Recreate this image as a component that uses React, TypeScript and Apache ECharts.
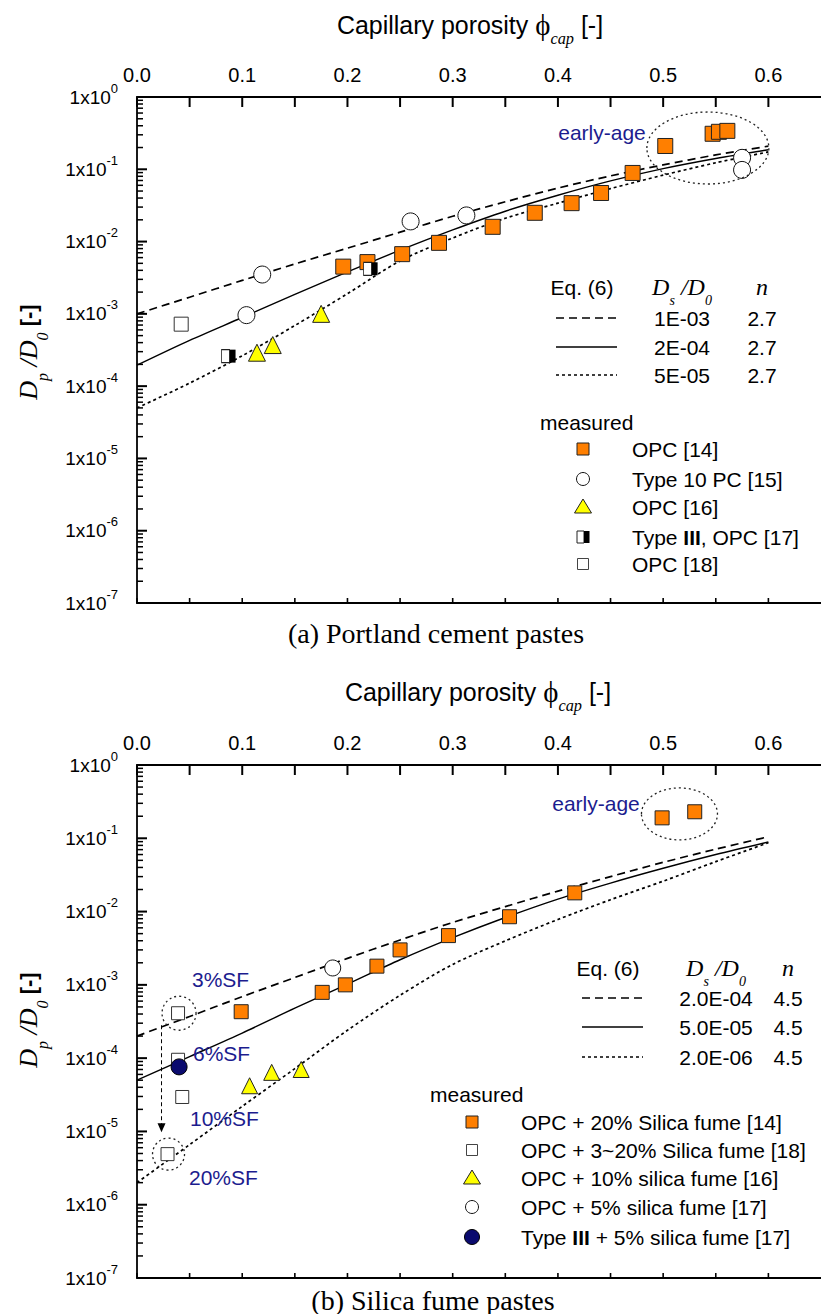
import React, { useEffect, useRef } from 'react';
import * as echarts from 'echarts';

const SANS = "'Liberation Sans', Arial, Helvetica, sans-serif";
const SERIF = "'Liberation Serif', 'Times New Roman', Times, serif";
const ORANGE = '#FF7F00';
const YELLOW = '#FFFF00';
const NAVY = '#0A0A6E';
const ANNOT = '#1C1C8E';

// capillary porosity sampling of the model curves
const phiModel = [0, 0.05, 0.1, 0.15, 0.2, 0.25, 0.3, 0.35, 0.4, 0.45, 0.5, 0.55, 0.6];

// (a) Portland cement pastes, Eq.(6)
const aDashed = [1.0e-3, 1.7e-3, 2.9e-3, 4.9e-3, 8.1e-3, 1.35e-2, 2.24e-2, 3.55e-2, 5.5e-2, 8.1e-2, 0.115, 0.158, 0.209];
const aSolid = [1.95e-4, 4.3e-4, 8.9e-4, 1.86e-3, 3.8e-3, 7.6e-3, 1.45e-2, 2.63e-2, 4.37e-2, 6.9e-2, 0.102, 0.141, 0.186];
const aDotted = [5.0e-5, 1.1e-4, 2.63e-4, 6.9e-4, 1.9e-3, 5.4e-3, 1.12e-2, 2.1e-2, 3.4e-2, 5.4e-2, 8.3e-2, 0.123, 0.174];

// (a) measured
const aOPC14 = [[0.196, 4.5e-3], [0.219, 5.2e-3], [0.252, 6.7e-3], [0.287, 9.6e-3], [0.338, 1.6e-2], [0.378, 2.5e-2], [0.413, 3.4e-2], [0.441, 4.7e-2], [0.471, 8.9e-2], [0.502, 0.21], [0.547, 0.31], [0.553, 0.33], [0.561, 0.34]];
const aType10 = [[0.104, 9.6e-4], [0.119, 3.5e-3], [0.26, 1.9e-2], [0.313, 2.3e-2], [0.575, 0.144], [0.575, 0.098]];
const aOPC16 = [[0.114, 2.9e-4], [0.129, 3.7e-4], [0.175, 1.0e-3]];
const aType3 = [[0.087, 2.6e-4], [0.222, 4.2e-3]];
const aOPC18 = [[0.042, 7.2e-4]];

// (b) Silica fume pastes, Eq.(6)
const bDashed = [2.0e-4, 3.7e-4, 6.9e-4, 1.26e-3, 2.3e-3, 4.1e-3, 7.1e-3, 1.17e-2, 1.9e-2, 3.0e-2, 4.7e-2, 7.1e-2, 0.105];
const bSolid = [5.0e-5, 1.05e-4, 2.2e-4, 4.8e-4, 1.02e-3, 2.2e-3, 4.4e-3, 8.3e-3, 1.48e-2, 2.45e-2, 3.9e-2, 6.0e-2, 8.9e-2];
const bDotted = [2.0e-6, 6.6e-6, 2.2e-5, 7.2e-5, 2.4e-4, 7.2e-4, 1.9e-3, 3.98e-3, 7.8e-3, 1.45e-2, 2.6e-2, 4.8e-2, 8.7e-2];

// (b) measured
const bOPC14 = [[0.099, 4.3e-4], [0.176, 7.9e-4], [0.198, 1.0e-3], [0.228, 1.8e-3], [0.25, 3.0e-3], [0.296, 4.7e-3], [0.354, 8.5e-3], [0.416, 1.8e-2], [0.499, 0.19], [0.53, 0.23]];
const bOPC18 = [[0.039, 4.1e-4], [0.039, 9.5e-5], [0.043, 2.95e-5], [0.029, 4.9e-6]];
const bOPC16 = [[0.107, 4.2e-5], [0.128, 6.4e-5], [0.156, 7.0e-5]];
const bOPC17 = [[0.186, 1.7e-3]];
const bType3 = [[0.04, 7.6e-5]];

// annotation anchors (data coords)
const aEarlyAge = [0.5425, 0.197];
const bEarlyAge = [0.5155, 0.215];

// legend texts
const aEqValues = ['1E-03', '2E-04', '5E-05'];
const aEqN = ['2.7', '2.7', '2.7'];
const bEqValues = ['2.0E-04', '5.0E-05', '2.0E-06'];
const bEqN = ['4.5', '4.5', '4.5'];
const aMeasured = ['OPC [14]', 'Type 10 PC [15]', 'OPC [16]', 'Type {b|III}, OPC [17]', 'OPC [18]'];
const bMeasured = ['OPC + 20% Silica fume [14]', 'OPC + 3~20% Silica fume [18]', 'OPC + 10% silica fume [16]', 'OPC + 5% silica fume [17]', 'Type {b|III} + 5% silica fume [17]'];

// axis tick positions
const xTickValues = [0, 0.05, 0.1, 0.15, 0.2, 0.25, 0.3, 0.35, 0.4, 0.45, 0.5, 0.55, 0.6];
const yDecades = [0, -1, -2, -3, -4, -5, -6, -7];
const minorMultipliers = [2, 3, 4, 5, 6, 7, 8, 9];

const pair = (ys: number[]) => phiModel.map((p, i) => [p, ys[i]]);

const DASH = [8, 5];
const DOT = [3, 3];

function xAxes(grid: number) {
  const common = {
    gridIndex: grid,
    type: 'value',
    min: 0,
    max: 0.65,
    interval: 0.05,
    splitLine: { show: false },
    axisTick: { show: false },
    axisLine: { show: true, lineStyle: { color: '#000', width: 1.8 } },
  };
  return [
    {
      ...common,
      position: 'top',
      axisLabel: {
        color: '#000',
        fontFamily: SANS,
        fontSize: 20,
        margin: 12,
        showMaxLabel: false,
        formatter: (v: number) => {
          const r = Math.round(v * 100);
          if (r % 10 !== 0 || r > 60) return '';
          return (r / 100).toFixed(1);
        },
      },
    },
    { ...common, position: 'bottom', axisLabel: { show: false } },
  ];
}

function yAxis(grid: number) {
  return {
    gridIndex: grid,
    type: 'log',
    logBase: 10,
    min: 1e-7,
    max: 1,
    splitNumber: 7,
    splitLine: { show: false },
    axisTick: { show: false },
    axisLine: { show: true, lineStyle: { color: '#000', width: 1.8 } },
    axisLabel: {
      color: '#000',
      fontFamily: SANS,
      margin: 19,
      formatter: (v: number) => `{b|1x10}{sup|${Math.round(Math.log10(v))}}`,
      rich: {
        b: { fontFamily: SANS, fontSize: 19, lineHeight: 22, color: '#000' },
        sup: { fontFamily: SANS, fontSize: 13, lineHeight: 13, padding: [0, 0, 18, 0], color: '#000' },
      },
    },
  };
}

function lineSeries(grid: number, ys: number[], type: any, width: number) {
  return {
    type: 'line',
    xAxisIndex: grid * 2,
    yAxisIndex: grid,
    data: pair(ys),
    smooth: 0.3,
    showSymbol: false,
    silent: true,
    z: 2,
    lineStyle: { color: '#000', width, type, opacity: 1 },
  };
}

function scatter(grid: number, data: number[][], symbol: string, size: any, fill: string, border: string, extra: any = {}) {
  return {
    type: 'scatter',
    xAxisIndex: grid * 2,
    yAxisIndex: grid,
    data,
    symbol,
    symbolSize: size,
    z: 4,
    itemStyle: { color: fill, opacity: 1, borderColor: border, borderWidth: border === 'none' ? 0 : 1 },
    ...extra,
  };
}

const option: any = {
  animation: false,
  grid: [
    { left: 137, top: 97, width: 689, height: 506 },
    { left: 137, top: 765, width: 694, height: 513 },
  ],
  xAxis: [...xAxes(0), ...xAxes(1)],
  yAxis: [yAxis(0), yAxis(1)],
  series: [
    lineSeries(0, aDashed, DASH, 1.7),
    lineSeries(0, aSolid, 'solid', 1.4),
    lineSeries(0, aDotted, DOT, 1.7),
    scatter(0, aOPC14, 'rect', 15, ORANGE, '#222'),
    scatter(0, aType10, 'circle', 17, '#fff', '#111'),
    scatter(0, aOPC16, 'triangle', 17, YELLOW, '#222'),
    scatter(0, aType3, 'rect', [8, 13], '#fff', '#222', { symbolOffset: [-3, 0] }),
    scatter(0, aType3, 'rect', [6, 13], '#000', 'none', { symbolOffset: [4, 0] }),
    scatter(0, aOPC18, 'rect', 14, '#fff', '#333'),
    lineSeries(1, bDashed, DASH, 1.7),
    lineSeries(1, bSolid, 'solid', 1.4),
    lineSeries(1, bDotted, DOT, 1.7),
    scatter(1, bOPC14, 'rect', 14, ORANGE, '#222'),
    scatter(1, bOPC18, 'rect', 13, '#fff', '#333'),
    scatter(1, bOPC16, 'triangle', 16, YELLOW, '#222'),
    scatter(1, bOPC17, 'circle', 16, '#fff', '#111'),
    scatter(1, bType3, 'circle', 16, NAVY, '#000'),
  ],
};

function txt(x: number, y: number, text: string, opts: any = {}) {
  return {
    type: 'text',
    x,
    y,
    z: 20,
    scaleX: opts.scaleX ?? 1,
    rotation: opts.rotation ?? 0,
    style: {
      text,
      fill: opts.fill ?? '#000',
      font: opts.font ?? `21px ${SANS}`,
      align: opts.align ?? 'left',
      verticalAlign: 'middle',
      rich: opts.rich,
    },
  };
}

function seg(x1: number, y1: number, x2: number, y2: number, w: number) {
  return { type: 'line', z: 30, silent: true, shape: { x1, y1, x2, y2 }, style: { stroke: '#000', lineWidth: w } };
}

function legendLine(x1: number, x2: number, y: number, dash: any, w: number) {
  return {
    type: 'line',
    z: 20,
    shape: { x1, y1: y, x2, y2: y },
    style: { stroke: '#000', lineWidth: w, lineDash: dash },
  };
}

const DS_RICH = {
  d: { fontFamily: SERIF, fontStyle: 'italic', fontSize: 24, lineHeight: 40, verticalAlign: 'middle' },
  s: { fontFamily: SERIF, fontStyle: 'italic', fontSize: 14, lineHeight: 14, verticalAlign: 'bottom' },
};

const BOLD_RICH = { b: { fontFamily: SANS, fontWeight: 'bold', fontSize: 21 } };

function eqLegend(cxEq: number, cxDs: number, cxN: number, lx1: number, lx2: number, rows: number[], vals: string[], ns: string[]) {
  const els: any[] = [];
  els.push(txt(cxEq, rows[0], 'Eq. (6)', { align: 'center' }));
  els.push(txt(cxDs, rows[0], '{d|D}{s|s}{d| /D}{s|0}', { align: 'center', rich: DS_RICH }));
  els.push(txt(cxN, rows[0], '{d|n}', { align: 'center', rich: DS_RICH }));
  const styles = [[DASH, 1.7], [null, 1.4], [DOT, 1.7]];
  for (let i = 0; i < 3; i++) {
    els.push(legendLine(lx1, lx2, rows[i + 1], styles[i][0], styles[i][1] as number));
    els.push(txt(cxDs, rows[i + 1], vals[i], { align: 'center' }));
    els.push(txt(cxN, rows[i + 1], ns[i], { align: 'center' }));
  }
  return els;
}

function marker(kind: string, cx: number, cy: number) {
  const z = 20;
  switch (kind) {
    case 'orange':
      return [{ type: 'rect', z, shape: { x: cx - 6, y: cy - 6, width: 12, height: 12 }, style: { fill: ORANGE, stroke: '#222', lineWidth: 1 } }];
    case 'circle':
      return [{ type: 'circle', z, shape: { cx, cy, r: 6.5 }, style: { fill: '#fff', stroke: '#111', lineWidth: 1 } }];
    case 'triangle':
      return [{ type: 'polygon', z, shape: { points: [[cx, cy - 8], [cx - 8.5, cy + 6], [cx + 8.5, cy + 6]] }, style: { fill: YELLOW, stroke: '#222', lineWidth: 1 } }];
    case 'half':
      return [
        { type: 'rect', z, shape: { x: cx - 6, y: cy - 6, width: 7, height: 12 }, style: { fill: '#fff', stroke: '#222', lineWidth: 1 } },
        { type: 'rect', z, shape: { x: cx + 1, y: cy - 6, width: 5.5, height: 12 }, style: { fill: '#000' } },
      ];
    case 'open':
      return [{ type: 'rect', z, shape: { x: cx - 5.5, y: cy - 5.5, width: 11, height: 11 }, style: { fill: '#fff', stroke: '#444', lineWidth: 1 } }];
    case 'navy':
      return [{ type: 'circle', z, shape: { cx, cy, r: 7.5 }, style: { fill: NAVY, stroke: '#000', lineWidth: 1 } }];
  }
  return [];
}

function measuredLegend(xHead: number, yHead: number, xMark: number, xText: number, rows: number[], kinds: string[], labels: string[]) {
  const els: any[] = [txt(xHead, yHead, 'measured')];
  rows.forEach((y, i) => {
    els.push(...marker(kinds[i], xMark, y));
    els.push(txt(xText, y, labels[i], { rich: BOLD_RICH }));
  });
  return els;
}

const TITLE_RICH = {
  t: { fontFamily: SANS, fontSize: 26, lineHeight: 44, verticalAlign: 'middle' },
  phi: { fontFamily: SERIF, fontSize: 30, lineHeight: 44, verticalAlign: 'middle' },
  sub: { fontFamily: SERIF, fontStyle: 'italic', fontSize: 17, lineHeight: 17, verticalAlign: 'bottom' },
  br: { fontFamily: SANS, fontSize: 26, lineHeight: 44, verticalAlign: 'middle' },
};

const YNAME_RICH = {
  d: { fontFamily: SERIF, fontStyle: 'italic', fontSize: 26, lineHeight: 44, verticalAlign: 'middle' },
  s: { fontFamily: SERIF, fontStyle: 'italic', fontSize: 16, lineHeight: 16, verticalAlign: 'bottom' },
  b: { fontFamily: SANS, fontWeight: 'bold', fontSize: 22, lineHeight: 44, verticalAlign: 'middle' },
};

export default function App() {
  const ref = useRef<HTMLDivElement>(null);
  useEffect(() => {
    document.body.style.margin = '0';
    const chart = echarts.init(ref.current as HTMLDivElement, null, { renderer: 'svg' });
    chart.setOption(option);

    const toA = (v: number[]) => chart.convertToPixel({ seriesIndex: 3 }, v) as number[];
    const toB = (v: number[]) => chart.convertToPixel({ seriesIndex: 12 }, v) as number[];

    // axis ticks placed through the axes' own scales
    const ticks: any[] = [];
    [toA, toB].forEach((to) => {
      xTickValues.forEach((v) => {
        const t = to([v, 1]);
        const b = to([v, 1e-7]);
        ticks.push(seg(t[0], t[1], t[0], t[1] + 10, 2));
        ticks.push(seg(b[0], b[1], b[0], b[1] - 5, 1.6));
      });
      yDecades.forEach((d) => {
        const p = to([0, Math.pow(10, d)]);
        ticks.push(seg(p[0], p[1], p[0] + 10, p[1], 2));
        if (d > -7) {
          minorMultipliers.forEach((k) => {
            const q = to([0, k * Math.pow(10, d - 1)]);
            ticks.push(seg(q[0], q[1], q[0] + 6, q[1], 1.5));
          });
        }
      });
    });

    const eA = toA(aEarlyAge);
    const eB = toB(bEarlyAge);
    const c3 = toB(bOPC18[0]);
    const c20 = toB(bOPC18[3]);

    const dottedStroke = { fill: 'none', stroke: '#222', lineWidth: 1.3, lineDash: [2, 3] };

    const graphics: any[] = [
      ...ticks,
      // axis titles
      txt(470, 25, '{t|Capillary porosity }{phi|ϕ}{sub|cap}{br| [-]}', { align: 'center', rich: TITLE_RICH, scaleX: 0.96 }),
      txt(478, 692, '{t|Capillary porosity }{phi|ϕ}{sub|cap}{br| [-]}', { align: 'center', rich: TITLE_RICH, scaleX: 0.96 }),
      txt(28, 352, '{d|D}{s|p}{d| /D}{s|0}{b| [-]}', { align: 'center', rich: YNAME_RICH, rotation: Math.PI / 2 }),
      txt(28, 1020, '{d|D}{s|p}{d| /D}{s|0}{b| [-]}', { align: 'center', rich: YNAME_RICH, rotation: Math.PI / 2 }),
      // captions
      txt(436, 633, '(a) Portland cement pastes', { align: 'center', font: `28px ${SERIF}` }),
      txt(433, 1300, '(b) Silica fume pastes', { align: 'center', font: `28px ${SERIF}` }),
      // early-age annotations
      { type: 'ellipse', z: 15, shape: { cx: eA[0], cy: eA[1], rx: 61, ry: 36 }, style: dottedStroke },
      txt(602, 132, 'early-age', { align: 'center', fill: ANNOT }),
      { type: 'ellipse', z: 15, shape: { cx: eB[0], cy: eB[1], rx: 38, ry: 26 }, style: dottedStroke },
      txt(596, 803, 'early-age', { align: 'center', fill: ANNOT }),
      // silica fume annotations
      { type: 'circle', z: 15, shape: { cx: c3[0] + 1, cy: c3[1], r: 17 }, style: dottedStroke },
      { type: 'circle', z: 15, shape: { cx: c20[0] + 1, cy: c20[1], r: 16 }, style: dottedStroke },
      { type: 'line', z: 15, shape: { x1: c20[0] - 6, y1: c3[1] + 12, x2: c20[0] - 6, y2: c20[1] - 30 }, style: { stroke: '#000', lineWidth: 1, lineDash: [4, 3] } },
      { type: 'polygon', z: 15, shape: { points: [[c20[0] - 10, c20[1] - 31], [c20[0] - 2, c20[1] - 31], [c20[0] - 6, c20[1] - 22]] }, style: { fill: '#000' } },
      txt(192, 979, '3%SF', { fill: ANNOT }),
      txt(193, 1053, '6%SF', { fill: ANNOT }),
      txt(190, 1118, '10%SF', { fill: ANNOT }),
      txt(189, 1177, '20%SF', { fill: ANNOT }),
      // legends
      ...eqLegend(582, 682, 762, 556, 617, [287, 318, 347, 375], aEqValues, aEqN),
      ...measuredLegend(540, 422, 583, 632, [449, 479, 507, 537, 564], ['orange', 'circle', 'triangle', 'half', 'open'], aMeasured),
      ...eqLegend(608, 716, 788, 582, 643, [968, 998, 1027, 1057], bEqValues, bEqN),
      ...measuredLegend(430, 1094, 472, 521, [1122, 1150, 1178, 1207, 1237], ['orange', 'open', 'triangle', 'circle', 'navy'], bMeasured),
    ];

    chart.setOption({ graphic: graphics });
    return () => chart.dispose();
  }, []);
  return <div ref={ref} style={{ width: 821, height: 1314 }} />;
}
